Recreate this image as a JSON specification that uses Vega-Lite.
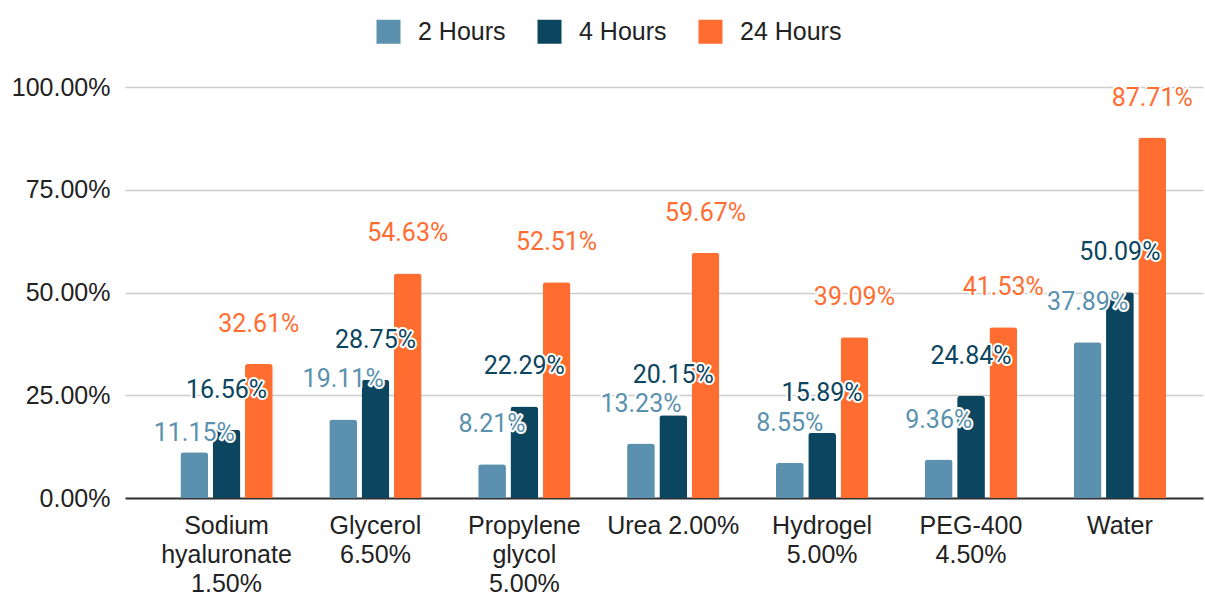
{
  "$schema": "https://vega.github.io/schema/vega-lite/v6.json",
  "width": 1078,
  "height": 411,
  "autosize": {"type": "none"},
  "padding": {"left": 125, "top": 87, "right": 2, "bottom": 99},
  "background": "white",
  "config": {"view": {"stroke": null}},
  "data": {
    "values": [
      {"cat": "Sodium\nhyaluronate\n1.50%", "series": "2 Hours", "value": 0.1115},
      {"cat": "Sodium\nhyaluronate\n1.50%", "series": "4 Hours", "value": 0.1656},
      {"cat": "Sodium\nhyaluronate\n1.50%", "series": "24 Hours", "value": 0.3261},
      {"cat": "Glycerol\n6.50%", "series": "2 Hours", "value": 0.1911},
      {"cat": "Glycerol\n6.50%", "series": "4 Hours", "value": 0.2875},
      {"cat": "Glycerol\n6.50%", "series": "24 Hours", "value": 0.5463},
      {"cat": "Propylene\nglycol\n5.00%", "series": "2 Hours", "value": 0.0821},
      {"cat": "Propylene\nglycol\n5.00%", "series": "4 Hours", "value": 0.2229},
      {"cat": "Propylene\nglycol\n5.00%", "series": "24 Hours", "value": 0.5251},
      {"cat": "Urea 2.00%", "series": "2 Hours", "value": 0.1323},
      {"cat": "Urea 2.00%", "series": "4 Hours", "value": 0.2015},
      {"cat": "Urea 2.00%", "series": "24 Hours", "value": 0.5967},
      {"cat": "Hydrogel\n5.00%", "series": "2 Hours", "value": 0.0855},
      {"cat": "Hydrogel\n5.00%", "series": "4 Hours", "value": 0.1589},
      {"cat": "Hydrogel\n5.00%", "series": "24 Hours", "value": 0.3909},
      {"cat": "PEG-400\n4.50%", "series": "2 Hours", "value": 0.0936},
      {"cat": "PEG-400\n4.50%", "series": "4 Hours", "value": 0.2484},
      {"cat": "PEG-400\n4.50%", "series": "24 Hours", "value": 0.4153},
      {"cat": "Water", "series": "2 Hours", "value": 0.3789},
      {"cat": "Water", "series": "4 Hours", "value": 0.5009},
      {"cat": "Water", "series": "24 Hours", "value": 0.8771}
    ]
  },
  "encoding": {
    "x": {
      "field": "cat", "type": "nominal", "sort": null,
      "scale": {"paddingInner": 0.38, "paddingOuter": 0.31, "align": 0.6},
      "axis": {
        "title": null, "labelAngle": 0, "ticks": false,
        "domain": true, "domainColor": "#333333", "domainWidth": 2,
        "labelFont": "Liberation Sans", "labelFontSize": 25, "labelColor": "#222222",
        "labelLineHeight": 29, "labelPadding": 15, "labelBaseline": "top",
        "labelOverlap": false, "labelLimit": 0,
        "labelExpr": "split(datum.value, '\\n')"
      }
    },
    "xOffset": {
      "field": "series", "type": "nominal",
      "scale": {"domain": ["2 Hours", "4 Hours", "24 Hours"], "paddingInner": 0.14, "paddingOuter": 0}
    },
    "y": {
      "field": "value", "type": "quantitative",
      "scale": {"domain": [0, 1], "nice": false},
      "axis": {
        "title": null, "values": [0, 0.25, 0.5, 0.75, 1], "format": ".2%",
        "domain": false, "ticks": false, "grid": true,
        "gridColor": "#cccccc", "gridWidth": 1.5,
        "labelFont": "Liberation Sans", "labelFontSize": 25, "labelColor": "#222222",
        "labelPadding": 15
      }
    }
  },
  "layer": [
    {
      "mark": {"type": "bar", "cornerRadiusTopLeft": 3, "cornerRadiusTopRight": 3},
      "encoding": {
        "color": {
          "field": "series", "type": "nominal",
          "scale": {"domain": ["2 Hours", "4 Hours", "24 Hours"], "range": ["#5b91ae", "#0b4560", "#ff6d31"]},
          "legend": {
            "title": null, "orient": "none", "direction": "horizontal",
            "legendX": 251, "legendY": -68,
            "symbolType": "square", "symbolSize": 576, "symbolStrokeWidth": 0, "symbolOpacity": 1,
            "labelFont": "Liberation Sans", "labelFontSize": 25, "labelColor": "#222222",
            "labelOffset": 17, "columnPadding": 31
          }
        }
      }
    },
    {
      "transform": [
        {"window": [{"op": "lead", "field": "value", "as": "nextv"}], "groupby": ["cat"], "sort": [{"field": "value", "order": "ascending"}]},
        {"filter": "!(datum.series == '2 Hours' && datum.nextv - datum.value < 0.06)"}
      ],
      "encoding": {
        "text": {"field": "value", "type": "quantitative", "format": ".2%"}
      },
      "layer": [
        {
          "mark": {"type": "text", "font": "Roboto", "fontSize": 25, "baseline": "middle", "dy": -40,
                   "stroke": "white", "strokeWidth": 4, "strokeJoin": "round", "fill": "white"}
        },
        {
          "mark": {"type": "text", "font": "Roboto", "fontSize": 25, "baseline": "middle", "dy": -40},
          "encoding": {"color": {"field": "series", "type": "nominal", "legend": null}}
        }
      ]
    },
    {
      "transform": [
        {"window": [{"op": "lead", "field": "value", "as": "nextv"}], "groupby": ["cat"], "sort": [{"field": "value", "order": "ascending"}]},
        {"filter": "datum.series == '2 Hours' && datum.nextv - datum.value < 0.06"}
      ],
      "encoding": {
        "text": {"field": "value", "type": "quantitative", "format": ".2%"}
      },
      "layer": [
        {
          "mark": {"type": "text", "font": "Roboto", "fontSize": 25, "baseline": "middle", "dy": -19,
                   "stroke": "white", "strokeWidth": 4, "strokeJoin": "round", "fill": "white"}
        },
        {
          "mark": {"type": "text", "font": "Roboto", "fontSize": 25, "baseline": "middle", "dy": -19},
          "encoding": {"color": {"field": "series", "type": "nominal", "legend": null}}
        }
      ]
    }
  ]
}
